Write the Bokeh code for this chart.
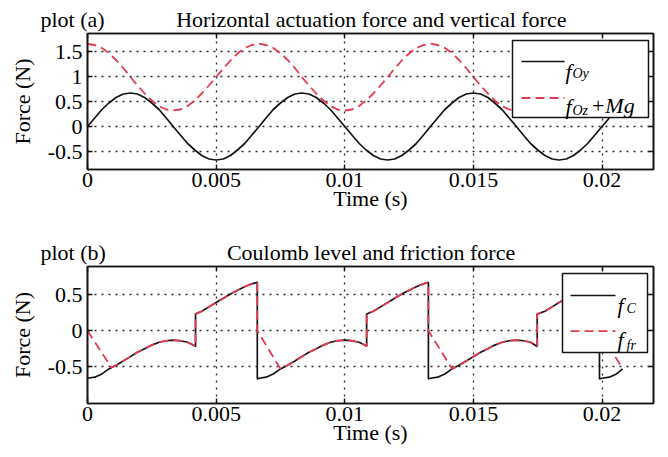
from bokeh.plotting import figure
from bokeh.models import Range1d, FixedTicker, LinearAxis, Label, BoxAnnotation, Arrow
from bokeh.layouts import column
from bokeh.embed import file_html
from bokeh.resources import INLINE

# ---------------- data ----------------
x_ticks = [0, 0.005, 0.01, 0.015, 0.02]
x_tick_labels = ["0", "0.005", "0.01", "0.015", "0.02"]
ya_ticks = [-0.5, 0, 0.5, 1, 1.5]
ya_tick_labels = ["-0.5", "0", "0.5", "1", "1.5"]
yb_ticks = [-0.5, 0, 0.5]
yb_tick_labels = ["-0.5", "0", "0.5"]

# plot (a): time (s)
t_a = [0, 0.00028, 0.00056, 0.00083, 0.00111, 0.00139, 0.00167, 0.00194, 0.00222, 0.0025, 0.00278, 0.00306,
       0.00333, 0.00361, 0.00389, 0.00417, 0.00444, 0.00472, 0.005, 0.00528, 0.00556, 0.00583, 0.00611, 0.00639,
       0.00667, 0.00694, 0.00722, 0.0075, 0.00778, 0.00806, 0.00833, 0.00861, 0.00889, 0.00917, 0.00944, 0.00972,
       0.01, 0.01028, 0.01056, 0.01083, 0.01111, 0.01139, 0.01167, 0.01194, 0.01222, 0.0125, 0.01278, 0.01306,
       0.01333, 0.01361, 0.01389, 0.01417, 0.01444, 0.01472, 0.015, 0.01528, 0.01556, 0.01583, 0.01611, 0.01639,
       0.01667, 0.01694, 0.01722, 0.0175, 0.01778, 0.01806, 0.01833, 0.01861, 0.01889, 0.01917, 0.01944, 0.01972,
       0.02, 0.02028, 0.02056, 0.02083]
# horizontal actuation force f_Oy (N)
f_oy = [0, 0.17, 0.34, 0.47, 0.58, 0.65, 0.67, 0.65, 0.58, 0.47, 0.34, 0.17,
        0, -0.17, -0.34, -0.47, -0.58, -0.65, -0.67, -0.65, -0.58, -0.47, -0.34, -0.17,
        0, 0.17, 0.34, 0.47, 0.58, 0.65, 0.67, 0.65, 0.58, 0.47, 0.34, 0.17,
        0, -0.17, -0.34, -0.47, -0.58, -0.65, -0.67, -0.65, -0.58, -0.47, -0.34, -0.17,
        0, 0.17, 0.34, 0.47, 0.58, 0.65, 0.67, 0.65, 0.58, 0.47, 0.34, 0.17,
        0, -0.17, -0.34, -0.47, -0.58, -0.65, -0.67, -0.65, -0.58, -0.47, -0.34, -0.17,
        0, 0.17, 0.34, 0.47]
# vertical force f_Oz + Mg (N)
f_oz_mg = [1.65, 1.63, 1.57, 1.47, 1.33, 1.17, 0.99, 0.82, 0.66, 0.52, 0.41, 0.34,
           0.32, 0.34, 0.41, 0.52, 0.66, 0.82, 0.99, 1.16, 1.32, 1.46, 1.57, 1.63,
           1.66, 1.63, 1.57, 1.47, 1.33, 1.17, 0.99, 0.82, 0.66, 0.52, 0.41, 0.34,
           0.32, 0.34, 0.41, 0.52, 0.66, 0.82, 0.99, 1.16, 1.32, 1.46, 1.57, 1.63,
           1.66, 1.63, 1.57, 1.47, 1.33, 1.17, 0.99, 0.82, 0.66, 0.52, 0.41, 0.34,
           0.32, 0.34, 0.41, 0.52, 0.66, 0.82, 0.99, 1.16, 1.32, 1.46, 1.57, 1.63,
           1.66, 1.63, 1.57, 1.47]

# plot (b): Coulomb level f_C
t_c = [0, 0.00028, 0.00056, 0.00083, 0.00111, 0.00139, 0.00167, 0.00194, 0.00222, 0.0025, 0.00278, 0.00306,
       0.00333, 0.00361, 0.00389, 0.00417, 0.0042, 0.0042, 0.00444, 0.00472, 0.005, 0.00528, 0.00556, 0.00583,
       0.00611, 0.00639, 0.0066, 0.0066,
       0.00667, 0.00694, 0.00722, 0.0075, 0.00778, 0.00806, 0.00833, 0.00861, 0.00889, 0.00917, 0.00944, 0.00972,
       0.01, 0.01028, 0.01056, 0.01083, 0.01085, 0.01085, 0.01111, 0.01139, 0.01167, 0.01194, 0.01222, 0.0125,
       0.01278, 0.01306, 0.01325, 0.01325,
       0.01333, 0.01361, 0.01389, 0.01417, 0.01444, 0.01472, 0.015, 0.01528, 0.01556, 0.01583, 0.01611, 0.01639,
       0.01667, 0.01694, 0.01722, 0.01748, 0.01748, 0.01778, 0.01806, 0.01833, 0.01861, 0.01889, 0.01917, 0.01944,
       0.01972, 0.0199, 0.0199,
       0.02, 0.02028, 0.02056, 0.0208]
f_c = [-0.66, -0.645, -0.6, -0.53, -0.48, -0.42, -0.36, -0.3, -0.25, -0.2, -0.16, -0.14,
       -0.13, -0.14, -0.16, -0.21, -0.22, 0.23, 0.27, 0.33, 0.39, 0.45, 0.51, 0.56,
       0.61, 0.65, 0.67, -0.67,
       -0.66, -0.645, -0.6, -0.53, -0.48, -0.42, -0.36, -0.3, -0.25, -0.2, -0.16, -0.14,
       -0.13, -0.14, -0.16, -0.21, -0.22, 0.23, 0.27, 0.33, 0.39, 0.45, 0.51, 0.56,
       0.61, 0.65, 0.67, -0.67,
       -0.66, -0.645, -0.6, -0.53, -0.48, -0.42, -0.36, -0.3, -0.25, -0.2, -0.16, -0.14,
       -0.13, -0.14, -0.16, -0.22, 0.23, 0.27, 0.33, 0.39, 0.45, 0.51, 0.56, 0.61,
       0.65, 0.67, -0.67,
       -0.66, -0.645, -0.6, -0.53]

# plot (b): friction force f_fr
t_fr = [0, 0.00093, 0.00111, 0.00139, 0.00167, 0.00194, 0.00222, 0.0025, 0.00278, 0.00306, 0.00333, 0.00361,
        0.00389, 0.00417, 0.0042, 0.0042, 0.00444, 0.00472, 0.005, 0.00528, 0.00556, 0.00583, 0.00611, 0.00639,
        0.0066, 0.0066,
        0.0075, 0.00778, 0.00806, 0.00833, 0.00861, 0.00889, 0.00917, 0.00944, 0.00972, 0.01, 0.01028, 0.01056,
        0.01083, 0.01085, 0.01085, 0.01111, 0.01139, 0.01167, 0.01194, 0.01222, 0.0125, 0.01278, 0.01306,
        0.01325, 0.01325,
        0.01417, 0.01444, 0.01472, 0.015, 0.01528, 0.01556, 0.01583, 0.01611, 0.01639, 0.01667, 0.01694, 0.01722,
        0.01748, 0.01748, 0.01778, 0.01806, 0.01833, 0.01861, 0.01889, 0.01917, 0.01944, 0.01972,
        0.0199, 0.0199, 0.0208]
f_fr = [0, -0.51, -0.48, -0.42, -0.36, -0.3, -0.25, -0.2, -0.16, -0.14, -0.13, -0.14,
        -0.16, -0.21, -0.22, 0.23, 0.27, 0.33, 0.39, 0.45, 0.51, 0.56, 0.61, 0.65,
        0.67, 0,
        -0.53, -0.48, -0.42, -0.36, -0.3, -0.25, -0.2, -0.16, -0.14, -0.13, -0.14, -0.16,
        -0.21, -0.22, 0.23, 0.27, 0.33, 0.39, 0.45, 0.51, 0.56, 0.61, 0.65,
        0.67, 0,
        -0.53, -0.48, -0.42, -0.36, -0.3, -0.25, -0.2, -0.16, -0.14, -0.13, -0.14, -0.16,
        -0.22, 0.23, 0.27, 0.33, 0.39, 0.45, 0.51, 0.56, 0.61, 0.65,
        0.67, 0, -0.53]

# ---------------- styling ----------------
FONT = "'Liberation Serif'"
FS = "22px"
BLACK = "#141414"
RED = "#e33a4e"
GRID = "#2a2a2a"
W = 668
NB = "\u00a0"


def make_fig(height, top, bottom, y_range, y_ticks, y_tick_labels, title, xfont, yfont):
    p = figure(width=W, height=height, output_backend="svg", toolbar_location=None,
               x_range=Range1d(0, 0.022), y_range=Range1d(*y_range),
               min_border_left=87, min_border_right=15,
               min_border_top=top, min_border_bottom=bottom, title=title)
    p.title.align = "left"
    p.title.offset = -47
    p.title.standoff = 4
    p.title.text_font = FONT
    p.title.text_font_size = FS
    p.title.text_font_style = "normal"
    p.title.text_color = "black"
    p.title.vertical_align = "bottom"

    p.background_fill_color = "white"
    p.border_fill_color = "white"
    p.outline_line_color = BLACK
    p.outline_line_width = 1.6

    xt = FixedTicker(ticks=x_ticks)
    yt = FixedTicker(ticks=y_ticks)
    p.xaxis.ticker = xt
    p.yaxis.ticker = yt
    p.xgrid.ticker = xt
    p.ygrid.ticker = yt
    p.xaxis.major_label_overrides = dict(zip(x_ticks, x_tick_labels))
    p.yaxis.major_label_overrides = dict(zip(y_ticks, y_tick_labels))
    p.xaxis.major_label_standoff = 3
    p.yaxis.major_label_standoff = 5

    for ax, f in ((p.xaxis[0], xfont), (p.yaxis[0], yfont)):
        ax.axis_line_color = BLACK
        ax.axis_line_width = 1.6
        ax.major_tick_in = 5
        ax.major_tick_out = 0
        ax.major_tick_line_color = BLACK
        ax.major_tick_line_width = 1.4
        ax.minor_tick_line_color = None
        ax.major_label_text_font = f
        ax.major_label_text_font_size = FS
        ax.major_label_text_font_style = "normal"
        ax.major_label_text_color = "black"
        ax.axis_label_text_font = FONT
        ax.axis_label_text_font_size = FS
        ax.axis_label_text_font_style = "normal"
        ax.axis_label_text_color = "black"

    p.yaxis.axis_label = "Force (N)"
    p.yaxis.axis_label_standoff = 10
    p.xaxis.axis_label = "Time (s)"
    p.xaxis.axis_label_standoff = -4

    for grid in (p.xgrid, p.ygrid):
        grid.grid_line_color = GRID
        grid.grid_line_dash = "2 5"
        grid.grid_line_width = 1.3

    # mirrored ticks (top and right), no labels
    for loc, ticks in (("above", x_ticks), ("right", y_ticks)):
        ax = LinearAxis(ticker=FixedTicker(ticks=ticks), major_tick_in=5, major_tick_out=0,
                        major_tick_line_color=BLACK, major_tick_line_width=1.4,
                        minor_tick_line_color=None, axis_line_color=BLACK, axis_line_width=1.6,
                        major_label_text_font_size="0px", major_label_text_color=None,
                        major_label_standoff=0)
        p.add_layout(ax, loc)
    return p


def add_text(p, text, x, y, size=FS):
    p.add_layout(Label(x=x, y=y, x_units="screen", y_units="screen", text=text,
                       text_font=FONT, text_font_size=size, text_font_style="italic",
                       text_color="black", text_align="left", text_baseline="alphabetic"))


def add_legend_frame(p, left, right, bottom, top, x0, x1, y_solid, y_dash):
    p.add_layout(BoxAnnotation(left=left, right=right, bottom=bottom, top=top,
                               left_units="screen", right_units="screen",
                               bottom_units="screen", top_units="screen",
                               fill_color="white", fill_alpha=1.0,
                               line_color=BLACK, line_width=1.5, line_alpha=1.0))
    p.add_layout(Arrow(x_start=x0, y_start=y_solid, x_end=x1, y_end=y_solid,
                       start_units="screen", end_units="screen", start=None, end=None,
                       line_color=BLACK, line_width=1.7))
    p.add_layout(Arrow(x_start=x0, y_start=y_dash, x_end=x1, y_end=y_dash,
                       start_units="screen", end_units="screen", start=None, end=None,
                       line_color=RED, line_width=1.8, line_dash="9 5"))


# ---------------- plot (a) ----------------
title_a = "plot (a)" + NB * 13 + "Horizontal actuation force and vertical force"
pa = make_fig(234, 33, 65, (-0.86, 1.86), ya_ticks, ya_tick_labels, title_a,
              "Times New Roman", "serif")
pa.line(t_a, f_oy, line_color=BLACK, line_width=1.7)
pa.line(t_a, f_oz_mg, line_color=RED, line_width=1.8, line_dash="9 5")
add_legend_frame(pa, 425, 561, 52, 129, 434, 477, 108, 71.5)
add_text(pa, "f", 478, 98)
add_text(pa, "Oy", 485, 96.5, size="14px")
add_text(pa, "f", 478, 63)
add_text(pa, "Oz", 485, 59.5, size="14px")
add_text(pa, "+Mg", 503, 64)

# ---------------- plot (b) ----------------
title_b = "plot (b)" + NB * 22 + "Coulomb level and friction force"
pb = make_fig(223, 32, 54, (-1.01, 0.89), yb_ticks, yb_tick_labels, title_b,
              "Liberation Serif", FONT)
pb.line(t_c, f_c, line_color=BLACK, line_width=1.7)
pb.line(t_fr, f_fr, line_color=RED, line_width=1.8, line_dash="9 5")
add_legend_frame(pb, 475, 560, 51, 130, 483, 528, 108, 72.3)
add_text(pb, "f", 530, 98)
add_text(pb, "C", 539, 95, size="14px")
add_text(pb, "f", 530, 64)
add_text(pb, "fr", 539, 58, size="14px")

layout = column(pa, pb)
open("out.html", "w").write(file_html(layout, INLINE))
